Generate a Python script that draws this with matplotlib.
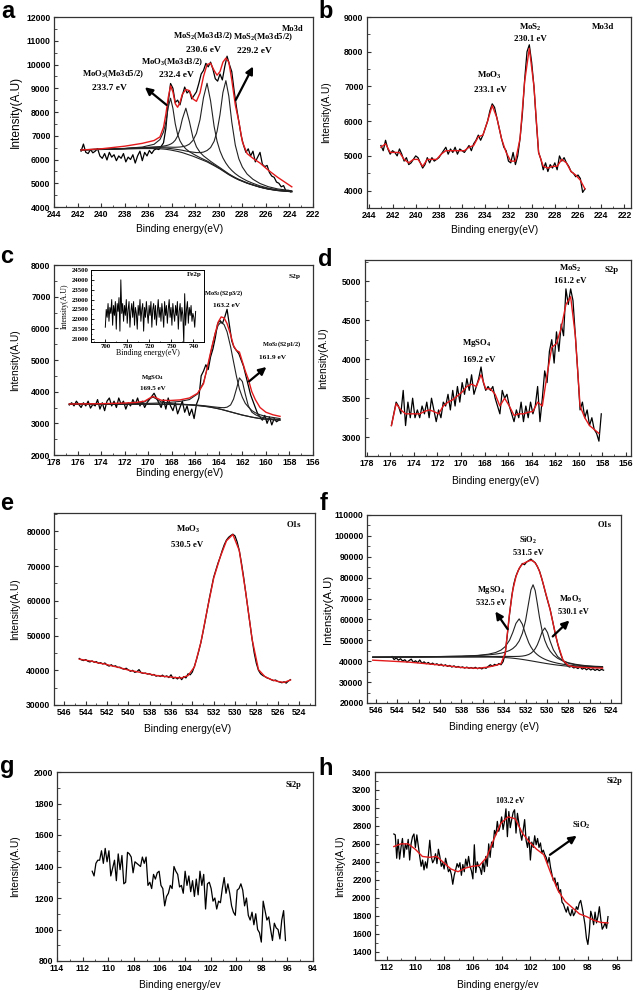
import matplotlib.pyplot as plt
import numpy as np
from matplotlib.ticker import MultipleLocator, AutoMinorLocator

plt.rcParams['font.family'] = ['Liberation Sans', 'DejaVu Sans']
plt.rcParams['font.weight'] = 'bold'
plt.rcParams['mathtext.default'] = 'regular'
SERIF = ['Liberation Serif', 'DejaVu Serif']
RED = '#e31a1c'
GREY = '#222222'

# ---- a: Mo3d (fitted) ----
a_y = [6350, 6650, 6300, 6250, 6420, 6280, 6350, 6460, 6150, 6050,
       6250, 5980, 6300, 6100, 6200, 5950, 6150, 6050, 6250, 5900,
       6100, 6000, 6200, 5850, 6150, 6350, 5950, 6300, 6150, 6380,
       6250, 6400, 6450, 6420, 6550, 6700, 7300, 8400, 9200, 9000,
       8400, 8500, 8300, 8700, 9050, 8800, 8900, 8550, 8700, 8850,
       9200, 9600, 9750, 10050, 9900, 10100, 9800, 9400, 9300, 9600,
       9350, 9900, 10350, 10000, 9700, 8900, 8200, 7600, 7000, 6600,
       6300, 6450, 6150, 6350, 5900, 6100, 6300, 5800, 5700, 5750,
       5450, 5300, 5250, 5050, 5000, 4850, 4900, 4680, 4700, 4640]
a_fit_x = [241.7, 240.0, 238.0, 236.5, 235.5, 235.0, 234.7, 234.5, 234.3, 234.1,
           233.9, 233.7, 233.5, 233.3, 233.1, 232.8, 232.5, 232.2, 231.9, 231.6,
           231.3, 231.0, 230.7, 230.4, 230.15, 229.9, 229.65, 229.4, 229.15, 228.9,
           228.6, 228.3, 228.0, 227.6, 227.1, 226.5, 225.8, 225.0, 223.8]
a_bg = [6400, 6420, 6440, 6460, 6460, 6450, 6440, 6430, 6415, 6400,
        6380, 6360, 6340, 6315, 6290, 6240, 6190, 6140, 6080, 6020,
        5960, 5900, 5820, 5740, 5670, 5600, 5520, 5440, 5360, 5290,
        5210, 5140, 5080, 5000, 4920, 4830, 4750, 4690, 4640]
a_pk1 = [6407, 6431, 6465, 6525, 6640, 6840, 7157, 7573, 8192, 8580,
         8157, 7503, 7057, 6786, 6617, 6446, 6331, 6241, 6157, 6080,
         6008, 5939, 5853, 5768, 5694, 5622, 5539, 5457, 5376, 5304,
         5223, 5151, 5090, 5009, 4928, 4837, 4756, 4695, 4644]
a_pk2 = [6406, 6429, 6458, 6494, 6524, 6544, 6565, 6582, 6607, 6647,
         6709, 6813, 6989, 7275, 7702, 8160, 7602, 6927, 6533, 6304,
         6152, 6038, 5923, 5820, 5736, 5655, 5567, 5481, 5395, 5321,
         5237, 5163, 5101, 5018, 4935, 4842, 4760, 4698, 4646]
a_pk3 = [6410, 6435, 6464, 6499, 6518, 6523, 6525, 6525, 6521, 6520,
         6516, 6516, 6520, 6526, 6540, 6571, 6647, 6802, 7098, 7675,
         8608, 9210, 8468, 7395, 6771, 6359, 6066, 5848, 5675, 5540,
         5405, 5296, 5207, 5100, 4997, 4888, 4794, 4723, 4663]
a_pk4 = [6409, 6432, 6459, 6488, 6497, 6494, 6489, 6483, 6472, 6462,
         6448, 6434, 6421, 6405, 6390, 6357, 6330, 6310, 6291, 6289,
         6313, 6378, 6502, 6766, 7184, 7890, 8825, 9320, 8665, 7580,
         6606, 6030, 5682, 5388, 5167, 4989, 4855, 4761, 4684]
a_env = [6400, 6450, 6560, 6680, 6800, 6950, 7350, 7900, 8600, 9100,
         8850, 8350, 8200, 8400, 8750, 8950, 8900, 8550, 8450, 8800,
         9500, 10000, 10050, 9750, 9550, 9700, 10100, 10270, 10100, 9350,
         8300, 7600, 6750, 6250, 6050, 5850, 5550, 5250, 4850]

# ---- b: Mo3d ----
b_y = [5300, 5150, 5450, 5200, 5050, 5150, 5100, 5000, 5200, 5050,
       4850, 4950, 4750, 4800, 4900, 5000, 4950, 4800, 4650, 4750,
       4950, 4800, 4950, 4850, 4900, 4950, 5050, 5150, 5250, 5050,
       5200, 5100, 5250, 5050, 5200, 5150, 5100, 5200, 5300, 5150,
       5350, 5450, 5600, 5450, 5600, 5800, 6000, 6300, 6500, 6400,
       6100, 5800, 5500, 5250, 5150, 4850, 4800, 5100, 4750, 5000,
       5500, 6200, 7200, 8000, 8200, 7700, 7000, 6000, 5100, 4900,
       4600, 4800, 4550, 4750, 4650, 4800, 4600, 5000, 4850, 4950,
       4800, 4700, 4550, 4500, 4400, 4450, 4350, 3950, 4050]
b_red = [5250, 5350, 5100, 5100, 5100, 4900, 4800, 4900, 4900, 4700,
         4900, 4900, 4900, 5050, 5150, 5150, 5150, 5150, 5150, 5250,
         5300, 5550, 5600, 6000, 6450, 6100, 5500, 5100, 4850, 4850,
         5500, 7150, 8100, 7000, 5100, 4700, 4650, 4700, 4700, 4900,
         4800, 4550, 4450, 4300, 4050]

# ---- c: S2p (fitted) + Fe2p inset ----
c_y = [3580, 3650, 3550, 3700, 3600, 3500, 3650, 3550, 3700, 3480,
       3600, 3550, 3750, 3450, 3650, 3400, 3700, 3800, 3550, 3700,
       3500, 3800, 3600, 3700, 3450, 3650, 3550, 3750, 3600, 3800,
       3550, 3700, 3500, 3650, 3750, 3850, 3950, 3800, 3650, 3500,
       3750, 3450, 3800, 3550, 3400, 3650, 3300, 3500, 3700, 3350,
       3550, 3250, 3450, 3150, 3600, 3800, 4500, 4650, 4850, 4700,
       5100, 5350, 5700, 6150, 6250, 6150, 6350, 6600, 6100, 5600,
       5400, 5300, 5200, 5000, 4800, 4500, 4200, 3900, 3700, 3500,
       3300, 3200, 3100, 3250, 3000, 3200, 2950, 3150, 3050, 3100]
c_fit_x = [176.7, 174.0, 172.0, 171.0, 170.3, 169.9, 169.6, 169.3, 168.9, 168.2,
           167.3, 166.5, 165.8, 165.3, 164.9, 164.6, 164.3, 164.05, 163.8, 163.55,
           163.3, 163.0, 162.75, 162.5, 162.25, 162.0, 161.75, 161.5, 161.2, 160.9,
           160.5, 160.0, 159.4, 158.8]
c_bg = [3600, 3600, 3600, 3600, 3600, 3600, 3600, 3600, 3598, 3596,
        3592, 3580, 3560, 3540, 3520, 3500, 3480, 3460, 3440, 3415,
        3390, 3360, 3335, 3310, 3285, 3260, 3240, 3220, 3195, 3175,
        3150, 3130, 3115, 3100]
c_pk1 = [3610, 3615, 3620, 3625, 3630, 3632, 3635, 3640, 3645, 3661,
         3692, 3750, 3930, 4290, 4850, 5380, 5860, 6100, 6200, 6115,
         5890, 5420, 4945, 4480, 4085, 3820, 3630, 3520, 3405, 3335,
         3270, 3220, 3185, 3150]
c_pk2 = [3603, 3603, 3604, 3605, 3605, 3606, 3606, 3606, 3605, 3604,
         3602, 3592, 3575, 3558, 3542, 3527, 3515, 3505, 3497, 3495,
         3510, 3580, 3765, 4090, 4435, 4320, 3920, 3560, 3355, 3275,
         3205, 3165, 3137, 3116]
c_pk3 = [3602, 3604, 3612, 3630, 3680, 3770, 3830, 3770, 3678, 3626,
         3604, 3587, 3566, 3545, 3525, 3504, 3484, 3463, 3443, 3418,
         3393, 3362, 3337, 3312, 3287, 3262, 3242, 3222, 3197, 3177,
         3152, 3132, 3117, 3102]
c_env = [3610, 3620, 3640, 3660, 3700, 3790, 3850, 3800, 3730, 3720,
         3740, 3800, 3950, 4250, 4900, 5400, 5850, 6200, 6360, 6330,
         6150, 5800, 5450, 5300, 5250, 4950, 4650, 4400, 4000, 3750,
         3500, 3350, 3270, 3220]
fe_y = [21600, 22500, 22100, 22800, 21900, 22600, 22300, 23000, 21700, 22700,
        22200, 22900, 21500, 22800, 22400, 23100, 21400, 24000, 22300, 22800,
        21900, 22700, 22200, 23000, 21800, 22500, 22900, 21600, 22400, 22800,
        22100, 22900, 21700, 22600, 22300, 21500, 22700, 22200, 23000, 21900,
        22500, 22800, 21400, 22600, 22100, 22900, 22300, 21800, 22700, 22200,
        22900, 21600, 22500, 22800, 22000, 22700, 21700, 22400, 23000, 22100,
        22600, 21900, 22800, 22300, 21600, 22900, 22200, 22700, 21800, 22500,
        23000, 22100, 22600, 21700, 22800, 22300, 21900, 22700, 22200, 22900,
        21500, 22400, 22800, 21900, 22600, 22200, 20800, 23300, 21700, 22500,
        22900, 21800, 22600, 22200, 22700, 21900, 22300, 22100, 21600, 22400]

# ---- d: S2p ----
d_y = [3150, 3300, 3450, 3400, 3300, 3600, 3150, 3450, 3250, 3500,
       3250, 3350, 3250, 3400, 3300, 3450, 3250, 3500, 3350, 3200,
       3350, 3250, 3450, 3400, 3550, 3350, 3600, 3400, 3650, 3450,
       3700, 3550, 3750, 3600, 3800, 3550, 3650, 3750, 3900, 3700,
       3600, 3650, 3600, 3650, 3500, 3400, 3300, 3600, 3500, 3550,
       3400, 3300, 3200, 3350, 3250, 3450, 3200, 3400, 3250, 3450,
       3300, 3400, 3650, 3200, 3500, 3850, 3700, 4100, 4250, 3950,
       4350, 4100, 4450, 4300, 4900, 4700, 4900, 4750, 4300, 3850,
       3350, 3450, 3250, 3350, 3150, 3250, 3100, 3050, 2950, 3300]
d_red = [3150, 3430, 3350, 3300, 3300, 3300, 3300, 3330, 3350, 3330,
         3300, 3400, 3450, 3480, 3530, 3580, 3650, 3680, 3650, 3800,
         3620, 3620, 3550, 3400, 3500, 3400, 3280, 3300, 3300, 3320,
         3330, 3450, 3400, 3800, 4150, 4200, 4400, 4700, 4800, 4300,
         3400, 3250, 3150, 3100, 3050]

# ---- e: O1s ----
e_y = [43400, 43000, 42800, 43100, 42600, 42400, 42700, 42300, 42500, 42000,
       42200, 41800, 42100, 41500, 41200, 41600, 41100, 41300, 40800, 40900,
       40500, 40300, 40600, 40100, 39700, 40000, 39400, 39600, 40200, 39300,
       39100, 39200, 38900, 39000, 38600, 38800, 38300, 38500, 38200, 38600,
       38100, 38400, 37900, 38700, 37600, 38000, 37500, 38100, 37300, 38200,
       37800, 39000, 38700, 39500, 41200, 43200, 45500, 48000, 51000, 54200,
       57500, 60800, 63800, 66800, 68800, 70800, 72500, 74500, 76200, 77500,
       78300, 78800, 79200, 78700, 77000, 74500, 71000, 67000, 62500, 58000,
       53500, 49000, 45000, 42000, 40000, 39000, 38500, 38200, 37800, 37600,
       37300, 37000, 37200, 36800, 36600, 36400, 36700, 36300, 36900, 37300]
e_red = [43200, 42900, 42600, 42100, 41800, 41300, 40900, 40400, 39900, 39600,
         39200, 38900, 38500, 38300, 38100, 37900, 37800, 38500, 41000, 48000,
         57500, 66500, 72500, 77300, 79100, 74500, 62500, 49000, 40200, 38200,
         37300, 36800, 36500, 37200]

# ---- f: O1s (fitted) ----
f_y = [42200, 40800, 41600, 40500, 41200, 40100, 40700, 39600, 40300, 41000,
       39500, 40200, 39300, 40600, 39000, 39700, 38800, 39400, 38500, 39100,
       38300, 38800, 38000, 38600, 37700, 38300, 37500, 38000, 37200, 37800,
       37100, 37500, 36900, 37300, 36700, 37200, 36600, 37000, 36500, 37100,
       36400, 36900, 36300, 37000, 36600, 37500, 38300, 37600, 38500, 38000,
       38900, 38300, 39800, 43800, 53000, 62500, 71000, 77000, 80800, 83300,
       85200, 86800, 86200, 87500, 88200, 88900, 87900, 87200, 85300, 83200,
       79800, 76000, 72000, 68300, 64800, 60000, 55000, 50500, 46500, 43200,
       40500, 39000, 38000, 37200, 37600, 36800, 37100, 36500, 37300, 36200,
       36800, 35900, 36600, 35800, 36400, 35600, 36200, 35500, 36100, 35700]
f_fit_x = [546.3, 543.0, 540.0, 538.0, 536.5, 535.5, 534.8, 534.3, 533.9, 533.5,
           533.2, 532.9, 532.6, 532.3, 532.0, 531.7, 531.5, 531.3, 531.1, 530.9,
           530.7, 530.45, 530.2, 529.95, 529.7, 529.4, 529.0, 528.5, 528.0, 527.3,
           526.5, 525.5, 524.8]
f_bg = [41900, 41950, 42000, 42000, 42000, 41980, 41920, 41850, 41750, 41600,
        41450, 41280, 41080, 40860, 40620, 40360, 40190, 40010, 39830, 39650,
        39470, 39250, 39030, 38820, 38620, 38400, 38130, 37850, 37600, 37350,
        37150, 37020, 36980]
f_pk1 = [41965, 42063, 42222, 42412, 42774, 43342, 44163, 45328, 47025, 50058,
         53738, 58122, 60280, 57702, 52908, 48818, 46834, 45285, 44078, 43128,
         42362, 41586, 40950, 40424, 39982, 39529, 39034, 38553, 38165, 37778,
         37475, 37261, 37180]
f_pk2 = [41984, 42088, 42249, 42417, 42688, 43026, 43408, 43839, 44355, 45140,
         46042, 47442, 49672, 53351, 59428, 68320, 74173, 76610, 73813, 67610,
         61063, 54532, 50001, 46917, 44782, 42992, 41398, 40123, 39264, 38497,
         37954, 37575, 37423]
f_pk3 = [41930, 41998, 42081, 42127, 42195, 42254, 42281, 42302, 42302, 42287,
         42274, 42286, 42332, 42463, 42732, 43239, 43824, 44679, 45975, 47854,
         50444, 54139, 55930, 53709, 49594, 45489, 42242, 40181, 39073, 38230,
         37702, 37366, 37244]
f_red = [40500, 39600, 38200, 37000, 36600, 37200, 38000, 38800, 44000, 63000,
         74000, 80500, 84500, 86500, 87300, 88000, 88300, 88000, 87000, 85500,
         83000, 79000, 74200, 69500, 64600, 57500, 48500, 40500, 37900, 37200,
         37000, 36800, 36700]

# ---- g: Si2p ----
g_y = [1370, 1340, 1420, 1440, 1440, 1500, 1420, 1515, 1430, 1500,
       1340, 1390, 1440, 1310, 1480, 1380, 1470, 1290, 1300, 1490,
       1480, 1460, 1360, 1430, 1420, 1410, 1400, 1460, 1420, 1460,
       1280, 1300, 1260, 1350, 1320, 1360, 1370, 1280, 1260, 1150,
       1210, 1230, 1280, 1260, 1400, 1370, 1350, 1270, 1280, 1230,
       1370, 1280, 1340, 1240, 1310, 1210, 1320, 1220, 1370, 1280,
       1350, 1130, 1290, 1300, 1260, 1180, 1200, 1130, 1180, 1170,
       1260, 1330, 1230, 1290, 1230, 1150, 1110, 1090, 1250, 1260,
       1290, 1250, 1150, 1200, 1090, 1060, 1110, 1030, 1100, 1000,
       980, 920, 1180, 1120, 1060, 1080, 1000, 930, 1040, 1010,
       1000, 940, 1060, 1120, 930]

# ---- h: Si2p ----
h_y = [2710, 2700, 2440, 2650, 2430, 2560, 2660, 2450, 2600, 2540,
       2650, 2420, 2600, 2680, 2710, 2560, 2700, 2580, 2460, 2350,
       2420, 2310, 2400, 2330, 2470, 2640, 2460, 2390, 2420, 2490,
       2380, 2540, 2460, 2350, 2390, 2320, 2440, 2370, 2290, 2320,
       2260, 2150, 2250, 2310, 2380, 2340, 2390, 2250, 2370, 2290,
       2430, 2350, 2460, 2350, 2300, 2210, 2590, 2280, 2400, 2350,
       2330, 2260, 2400, 2290, 2460, 2350, 2600, 2450, 2620, 2560,
       2750, 2700, 2850, 2740, 2800, 2900, 2760, 2850, 2990, 2680,
       2960, 2780, 2870, 2950, 2980, 2720, 2940, 2830, 2720, 2640,
       2750, 2870, 2640, 2560, 2680, 2420, 2620, 2560, 2690, 2590,
       2660, 2560, 2610, 2500, 2530, 2480, 2450, 2380, 2450, 2340,
       2260, 2190, 2220, 2130, 2170, 2060, 2090, 1950, 1930, 1880,
       1840, 1900, 1830, 1800, 1870, 1800, 1830, 1900, 1870, 1940,
       1970, 1890, 1800, 1700, 1550, 1480, 1620, 1850, 1790, 1700,
       1840, 1720, 1790, 1900, 1760, 1650, 1680, 1720, 1660, 1790]
h_red = [2570, 2600, 2600, 2540, 2460, 2450, 2460, 2390, 2320, 2290,
         2330, 2350, 2360, 2450, 2650, 2830, 2900, 2880, 2720, 2620,
         2540, 2480, 2270, 2080, 1960, 1890, 1820, 1790, 1750, 1725, 1720]


def grid(start, stop, values):
    return np.linspace(start, stop, len(values))


def setup(ax, xlim, ylim, xstep, ystep, xlabel, xlab, ylab, ysize=7.3):
    ax.set_xlim(*xlim)
    ax.set_ylim(*ylim)
    ax.xaxis.set_major_locator(MultipleLocator(xstep))
    ax.yaxis.set_major_locator(MultipleLocator(ystep))
    ax.xaxis.set_minor_locator(AutoMinorLocator(2))
    ax.yaxis.set_minor_locator(AutoMinorLocator(2))
    ax.tick_params(which='both', direction='in', top=False, right=False,
                   labelsize=6.2, pad=2.5, color='#333333')
    ax.tick_params(which='major', length=3, width=0.8)
    ax.tick_params(which='minor', length=1.8, width=0.6)
    ax.set_xlabel(xlabel, fontsize=7.3, fontweight='normal')
    ax.set_ylabel('Intensity(A.U)', fontsize=ysize, fontweight='normal')
    ax.xaxis.label.set_va('center')
    ax.yaxis.label.set_va('center')
    ax.xaxis.set_label_coords(*xlab)
    ax.yaxis.set_label_coords(ylab, 0.5)
    for sp in ax.spines.values():
        sp.set_linewidth(0.9)
        sp.set_color('#333333')


def note(ax, x, y, s, size):
    ax.text(x, y, s, ha='center', va='center', fontsize=size,
            fontweight='bold', family=SERIF)


def arrow(ax, tail, head):
    ax.annotate('', xy=head, xytext=tail,
                arrowprops=dict(arrowstyle='-|>', color='k', lw=1.6,
                                mutation_scale=11, shrinkA=0, shrinkB=0))


fig = plt.figure(figsize=(6.36, 9.92), dpi=100)
W, H = 636.0, 992.0


def panel(left, top, right, bottom):
    return fig.add_axes([left / W, 1 - bottom / H, (right - left) / W, (bottom - top) / H])


# a
ax = panel(54, 17, 313, 207)
ax.plot(grid(241.7, 223.9, a_y), a_y, color='k', lw=0.9)
for comp in (a_bg, a_pk1, a_pk2, a_pk3, a_pk4):
    ax.plot(a_fit_x, comp, color=GREY, lw=0.8)
ax.plot(a_fit_x, a_env, color=RED, lw=1.0)
setup(ax, (244, 222), (4000, 12000), 2, 1000, 'Binding energy(eV)', (0.483, -0.116), -0.147, 8.6)
note(ax, 238.97, 9606, 'MoO$_3$(Mo3d5/2)', 6.2)
note(ax, 239.25, 9000, '233.7 eV', 6.8)
note(ax, 234.0, 10085, 'MoO$_3$(Mo3d3/2)', 6.2)
note(ax, 233.6, 9564, '232.4 eV', 6.8)
note(ax, 231.33, 11211, 'MoS$_2$(Mo3d3/2)', 6.2)
note(ax, 231.33, 10620, '230.6 eV', 6.8)
note(ax, 226.24, 11155, 'MoS$_2$(Mo3d5/2)', 6.2)
note(ax, 226.95, 10550, '229.2 eV', 6.8)
note(ax, 223.75, 11507, 'Mo3d', 6.2)
arrow(ax, (234.44, 8297), (236.28, 9043))
arrow(ax, (228.56, 8508), (227.09, 9916))

# b
ax = panel(367, 17, 631, 208)
ax.plot(grid(243.0, 225.4, b_y), b_y, color='k', lw=0.9)
ax.plot(grid(243.0, 225.4, b_red), b_red, color=RED, lw=1.0)
setup(ax, (244.2, 221.43), (3500, 9000), 2, 1000, 'Binding energy(eV)', (0.485, -0.115), -0.155)
note(ax, 230.1, 8713, 'MoS$_2$', 6.4)
note(ax, 230.1, 8377, '230.1 eV', 6.4)
note(ax, 233.67, 7323, 'MoO$_3$', 6.4)
note(ax, 233.6, 6892, '233.1 eV', 6.4)
note(ax, 223.8, 8713, 'Mo3d', 6.4)

# c
ax = panel(54, 265, 313, 455)
ax.plot(grid(176.7, 158.9, c_y), c_y, color='k', lw=0.9)
for comp in (c_bg, c_pk1, c_pk2, c_pk3):
    ax.plot(c_fit_x, comp, color=GREY, lw=0.8)
ax.plot(c_fit_x, c_env, color=RED, lw=1.0)
setup(ax, (178, 156), (2000, 8000), 2, 1000, 'Binding energy(eV)', (0.486, -0.093), -0.151)
note(ax, 157.55, 7630, 'S2p', 5.3)
note(ax, 163.6, 7124, 'MoS$_2$(S2p3/2)', 4.6)
note(ax, 163.35, 6712, '163.2 eV', 5.3)
note(ax, 158.68, 5497, 'MoS$_2$(S2p1/2)', 4.6)
note(ax, 159.45, 5075, '161.9 eV', 5.3)
note(ax, 169.63, 4441, 'MgSO$_4$', 4.8)
note(ax, 169.63, 4093, '169.5 eV', 5.0)
arrow(ax, (161.43, 4325), (159.96, 4779))

ins = panel(91, 270, 204, 342)
ins.plot(grid(700, 741, fe_y), fe_y, color='k', lw=0.7)
ins.set_xlim(693.5, 744.8)
ins.set_ylim(20850, 24500)
ins.xaxis.set_major_locator(MultipleLocator(10))
ins.yaxis.set_major_locator(MultipleLocator(500))
ins.xaxis.set_minor_locator(AutoMinorLocator(2))
ins.yaxis.set_minor_locator(AutoMinorLocator(2))
ins.tick_params(which='both', direction='in', top=False, right=False,
                labelsize=4.9, pad=1.5, labelfontfamily='Liberation Serif')
ins.tick_params(which='major', length=2, width=0.6)
ins.tick_params(which='minor', length=1, width=0.5)
ins.set_xlabel('Binding energy(eV)', fontsize=5.8, family=SERIF)
ins.set_ylabel('Intensity(A.U)', fontsize=5.6, family=SERIF)
ins.xaxis.label.set_va('center')
ins.yaxis.label.set_va('center')
ins.xaxis.set_label_coords(0.5, -0.15)
ins.yaxis.set_label_coords(-0.23, 0.5)
for sp in ins.spines.values():
    sp.set_linewidth(0.7)
ins.text(740.3, 24282, 'Fe2p', ha='center', va='center', fontsize=5.0,
         fontweight='bold', family=SERIF)

# d
ax = panel(365, 260, 631, 456)
ax.plot(grid(175.9, 158.1, d_y), d_y, color='k', lw=0.9)
ax.plot(grid(175.9, 158.3, d_red), d_red, color=RED, lw=1.0)
setup(ax, (178.14, 155.58), (2760, 5270), 2, 500, 'Binding energy(eV)', (0.49, -0.128), -0.158)
note(ax, 160.73, 5162, 'MoS$_2$', 6.3)
note(ax, 160.73, 5000, '161.2 eV', 6.3)
note(ax, 168.65, 4201, 'MgSO$_4$', 6.3)
note(ax, 168.43, 3987, '169.2 eV', 6.3)
note(ax, 157.24, 5141, 'S2p', 6.3)

# e
ax = panel(54, 513, 315, 705)
ax.plot(grid(544.6, 524.8, e_y), e_y, color='k', lw=0.9)
ax.plot(grid(544.6, 524.8, e_red), e_red, color=RED, lw=1.0)
setup(ax, (546.97, 522.5), (30000, 85300), 2, 10000, 'Binding energy(eV)', (0.51, -0.125), -0.149)
note(ax, 534.4, 80480, 'MoO$_3$', 6.3)
note(ax, 534.47, 76150, '530.5 eV', 6.3)
note(ax, 524.47, 81920, 'O1s', 6.3)

# f
ax = panel(367, 515, 621, 703)
ax.plot(grid(544.5, 524.7, f_y), f_y, color='k', lw=0.9)
for comp in (f_bg, f_pk1, f_pk2, f_pk3):
    ax.plot(f_fit_x, comp, color=GREY, lw=0.8)
ax.plot(f_fit_x, f_red, color=RED, lw=1.0)
setup(ax, (546.84, 523.07), (20000, 110000), 2, 10000, 'Binding energy (eV)', (0.5, -0.128), -0.154, 8.2)
note(ax, 524.56, 105220, 'O1s', 6.0)
note(ax, 531.8, 98050, 'SiO$_2$', 6.0)
note(ax, 531.7, 92000, '531.5 eV', 6.0)
note(ax, 535.24, 74160, 'MgSO$_4$', 6.0)
note(ax, 535.24, 67780, '532.5 eV', 6.0)
note(ax, 527.75, 69700, 'MoO$_3$', 6.0)
note(ax, 527.5, 63330, '530.1 eV', 6.0)
arrow(ax, (533.68, 55360), (534.83, 63800))
arrow(ax, (529.46, 51860), (527.9, 59500))

# g
ax = panel(57, 772, 313, 961)
ax.plot(grid(111.25, 96.15, g_y), g_y, color='k', lw=0.9)
setup(ax, (114, 94), (800, 2000), 2, 200, 'Binding energy/ev', (0.48, -0.127), -0.164)
note(ax, 95.56, 1915, 'Si2p', 6.0)

# h
ax = panel(375, 772, 631, 960)
ax.plot(grid(111.5, 96.6, h_y), h_y, color='k', lw=0.9)
ax.plot(grid(111.5, 96.6, h_red), h_red, color=RED, lw=1.0)
setup(ax, (112.81, 95.0), (1307, 3400), 2, 200, 'Binding energy/ev', (0.48, -0.133), -0.137)
note(ax, 103.42, 3073, '103.2 eV', 5.6)
note(ax, 98.43, 2802, 'SiO$_2$', 6.2)
note(ax, 96.12, 3296, 'Si2p', 6.0)
arrow(ax, (100.64, 2478), (98.78, 2690))

# panel letters
for letter, x, y in [('a', 1, 18), ('b', 318, 18), ('c', 0, 263), ('d', 318, 266),
                     ('e', 0, 510), ('f', 320, 510), ('g', 0, 773), ('h', 318, 775)]:
    fig.text(x / W, 1 - y / H, letter, fontsize=17, fontweight='bold',
             ha='left', va='baseline')

fig.savefig('out.png', dpi=100)
